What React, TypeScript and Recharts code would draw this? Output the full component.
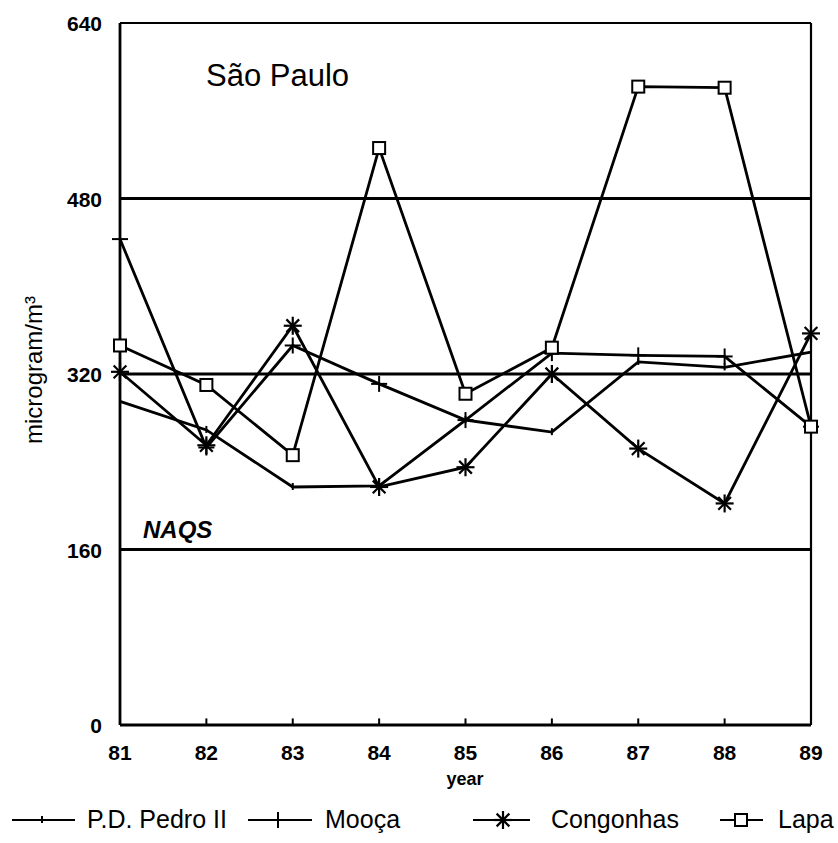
import { LineChart, Line, XAxis, YAxis, ReferenceLine, Legend, Customized } from 'recharts';

const years = [81, 82, 83, 84, 85, 86, 87, 88, 89];
const pedroII = [295, 269, 217, 218, 278, 267, 331, 326, 340];
const mooca = [443, 253, 346, 311, 278, 339, 337, 336, 272];
const congonhas = [322, 255, 364, 217, 235, 320, 252, 202, 357];
const lapa = [346, 310, 246, 526, 302, 344, 582, 581, 272];

const yTicks = [0, 160, 320, 480, 640];
const guideLevels = [160, 320, 480];
const innerTicks = [82, 83, 84, 85, 86, 87, 88];

const data = years.map((year, i) => ({
  year,
  pedroII: pedroII[i],
  mooca: mooca[i],
  congonhas: congonhas[i],
  lapa: lapa[i],
}));

const FONT = '"Liberation Sans", Arial, Helvetica, sans-serif';
const INK = '#000';
const LW = 2.8;

// marker shapes
const tickMark = (cx: number, cy: number) => (
  <line x1={cx} x2={cx} y1={cy - 4} y2={cy + 3} stroke={INK} strokeWidth={2} />
);
const crossMark = (cx: number, cy: number) => (
  <g>
    <line x1={cx} x2={cx} y1={cy - 8} y2={cy + 8} stroke={INK} strokeWidth={2} />
    <line x1={cx - 8} x2={cx + 8} y1={cy} y2={cy} stroke={INK} strokeWidth={2} />
  </g>
);
const starMark = (cx: number, cy: number) => (
  <g stroke={INK} strokeWidth={2.2}>
    {[0, 45, 90, 135].map((a) => {
      const r = 9;
      const dx = r * Math.cos((a * Math.PI) / 180);
      const dy = r * Math.sin((a * Math.PI) / 180);
      return <line key={a} x1={cx - dx} x2={cx + dx} y1={cy - dy} y2={cy + dy} />;
    })}
  </g>
);
const squareMark = (cx: number, cy: number) => (
  <rect x={cx - 6} y={cy - 6} width={12} height={12} fill="#fff" stroke={INK} strokeWidth={2} />
);

const dotFrom = (shape: (cx: number, cy: number) => any) => (props: any) => {
  const { cx, cy, index } = props;
  return <g key={`m-${index}`}>{shape(cx, cy)}</g>;
};

const legendItems = [
  { name: 'P.D. Pedro II', shape: tickMark, x1: 12, x2: 75, mx: 42, tx: 87 },
  { name: 'Mooça', shape: crossMark, x1: 248, x2: 312, mx: 278, tx: 325 },
  { name: 'Congonhas', shape: starMark, x1: 473, x2: 530, mx: 503, tx: 551 },
  { name: 'Lapa', shape: squareMark, x1: 720, x2: 763, mx: 741, tx: 778 },
];

const ChartLegend = () => (
  <svg width={838} height={40}>
    {legendItems.map((it) => (
      <g key={it.name}>
        <line x1={it.x1} x2={it.x2} y1={20} y2={20} stroke={INK} strokeWidth={2} />
        {it.shape(it.mx, 20)}
        <text x={it.tx} y={28} fontFamily={FONT} fontSize={25} fill={INK}>
          {it.name}
        </text>
      </g>
    ))}
  </svg>
);

const XTick = (props: any) => {
  const { x, y, payload } = props;
  return (
    <text x={x} y={y} dy={35} textAnchor="middle" fontFamily={FONT} fontWeight="bold" fontSize={21} fill={INK}>
      {payload.value}
    </text>
  );
};

const YTick = (props: any) => {
  const { x, y, payload } = props;
  return (
    <text x={x - 18} y={y} dy={8} textAnchor="end" fontFamily={FONT} fontWeight="bold" fontSize={21} fill={INK}>
      {payload.value}
    </text>
  );
};

const Annotations = () => (
  <g fontFamily={FONT} fill={INK}>
    <text x={206} y={86} fontSize={31}>São Paulo</text>
    <text x={143} y={538} fontSize={24} fontWeight="bold" fontStyle="italic">NAQS</text>
    <text x={465} y={785} fontSize={18} fontWeight="bold" textAnchor="middle">year</text>
    <text x={0} y={0} fontSize={24} textAnchor="middle" transform="translate(42 370) rotate(-90)">
      microgram/m³
    </text>
  </g>
);

export default function App() {
  return (
    <div style={{ position: 'absolute', left: 0, top: 0, background: '#fff' }}>
      <LineChart
        width={838}
        height={843}
        data={data}
        margin={{ top: 23, right: 27, left: 20, bottom: 78 }}
      >
        <XAxis
          dataKey="year"
          type="number"
          domain={[81, 89]}
          ticks={years}
          height={40}
          axisLine={{ stroke: INK, strokeWidth: LW }}
          tickLine={false}
          tickSize={0}
          tickMargin={0}
          tick={<XTick />}
        />
        <YAxis
          domain={[0, 640]}
          ticks={yTicks}
          width={100}
          axisLine={{ stroke: INK, strokeWidth: LW }}
          tickLine={false}
          tickSize={0}
          tickMargin={0}
          tick={<YTick />}
        />
        {guideLevels.map((v) => (
          <ReferenceLine key={v} y={v} stroke={INK} strokeWidth={LW} />
        ))}
        <ReferenceLine y={640} stroke={INK} strokeWidth={2.2} />
        <ReferenceLine x={89} stroke={INK} strokeWidth={2.2} />
        {innerTicks.map((t) => (
          <ReferenceLine
            key={`t${t}`}
            segment={[{ x: t, y: 0 }, { x: t, y: 6 }]}
            stroke={INK}
            strokeWidth={2}
          />
        ))}
        <Line
          dataKey="pedroII"
          type="linear"
          stroke={INK}
          strokeWidth={LW}
          dot={dotFrom(tickMark)}
          isAnimationActive={false}
        />
        <Line
          dataKey="mooca"
          type="linear"
          stroke={INK}
          strokeWidth={LW}
          dot={dotFrom(crossMark)}
          isAnimationActive={false}
        />
        <Line
          dataKey="congonhas"
          type="linear"
          stroke={INK}
          strokeWidth={LW}
          dot={dotFrom(starMark)}
          isAnimationActive={false}
        />
        <Line
          dataKey="lapa"
          type="linear"
          stroke={INK}
          strokeWidth={LW}
          dot={dotFrom(squareMark)}
          isAnimationActive={false}
        />
        <Customized component={Annotations} />
        <Legend
          layout="horizontal"
          verticalAlign="middle"
          align="center"
          content={<ChartLegend />}
          wrapperStyle={{ position: 'absolute', left: 0, top: 800, width: 838, height: 40 }}
        />
      </LineChart>
    </div>
  );
}
